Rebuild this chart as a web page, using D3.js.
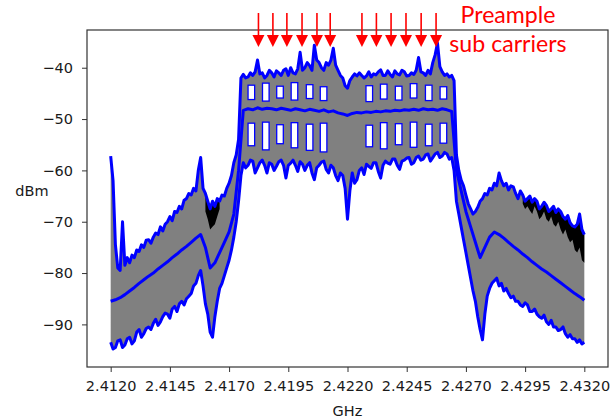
<!DOCTYPE html>
<html><head><meta charset="utf-8">
<script src="https://cdn.jsdelivr.net/npm/d3@7"></script>
<style>html,body{margin:0;padding:0;background:#fff;} svg{display:block;}</style>
</head><body>
<svg id="c" width="613" height="420"></svg>
<script>
// ---- data (GHz / dBm) ----
// spectrum bins: 2.4120 .. 2.4320 GHz, 0.1 MHz apart (201 bins)
const binStart = 2.4120, binStep = 0.0001, binCount = 201;

const maxDbm = [-57.2,-62.0,-74.5,-79.0,-79.5,-70.0,-78.5,-77.0,-78.0,-76.5,
-77.0,-75.5,-75.8,-74.5,-75.0,-73.6,-73.5,-74.2,-73.0,-72.2,
-72.5,-71.0,-71.8,-70.5,-70.0,-69.0,-69.8,-68.0,-68.2,-67.0,
-67.5,-65.8,-65.5,-64.5,-64.8,-63.5,-64.0,-60.0,-57.5,-63.5,
-64.5,-66.0,-67.5,-66.0,-67.0,-65.5,-66.0,-64.8,-65.0,-63.5,
-62.5,-61.0,-58.5,-57.0,-54.0,-42.0,-41.3,-42.0,-41.8,-41.0,
-41.5,-40.8,-38.5,-41.2,-41.0,-42.0,-41.5,-40.5,-41.0,-41.8,
-40.6,-41.0,-41.5,-40.5,-40.2,-41.5,-40.0,-41.0,-41.2,-40.2,
-37.0,-40.5,-40.0,-39.0,-39.6,-40.5,-35.6,-38.5,-39.0,-40.0,
-40.5,-39.0,-39.5,-38.5,-36.2,-39.5,-40.5,-41.5,-42.0,-43.5,
-44.0,-42.5,-41.8,-41.2,-41.6,-41.0,-41.5,-42.0,-41.6,-40.8,
-41.8,-41.2,-41.4,-40.8,-40.4,-41.5,-41.5,-40.6,-41.3,-41.8,
-40.6,-41.2,-41.4,-40.5,-40.8,-41.6,-41.5,-41.0,-41.3,-40.5,
-38.0,-40.8,-41.0,-41.5,-40.5,-41.2,-39.0,-37.5,-35.2,-39.8,
-40.8,-41.5,-41.2,-41.8,-41.5,-42.5,-57.0,-60.0,-61.9,-63.0,
-64.8,-66.5,-67.5,-68.5,-68.0,-67.2,-66.0,-65.5,-64.5,-64.8,
-63.5,-63.8,-62.5,-63.0,-60.5,-62.0,-63.0,-62.5,-63.8,-63.0,
-63.2,-64.5,-65.5,-64.0,-64.8,-66.0,-65.5,-65.0,-66.2,-65.5,
-66.0,-67.5,-67.0,-66.2,-66.8,-68.0,-67.5,-67.0,-68.2,-67.5,
-68.0,-69.0,-69.5,-68.8,-70.2,-70.8,-71.0,-70.5,-68.5,-71.5,
-72.5];

const minDbm = [-93.5,-94.8,-94.5,-93.2,-93.0,-94.5,-94.0,-92.8,-92.5,-93.8,
-93.2,-91.5,-91.0,-92.5,-91.8,-90.8,-90.5,-91.0,-89.8,-89.0,
-90.2,-89.5,-88.5,-87.8,-88.0,-88.8,-87.0,-86.5,-87.5,-86.0,
-85.5,-86.2,-85.0,-84.5,-84.0,-82.5,-82.0,-80.5,-79.5,-82.5,
-86.0,-88.0,-91.5,-92.5,-88.5,-85.5,-83.0,-82.0,-80.5,-79.0,
-77.5,-75.5,-73.0,-70.0,-66.0,-61.0,-58.5,-59.5,-59.0,-58.0,
-58.2,-60.5,-59.5,-58.5,-58.0,-59.0,-60.5,-58.5,-58.8,-60.0,
-59.2,-58.3,-58.0,-59.0,-61.5,-59.0,-58.6,-58.0,-59.0,-60.2,
-58.3,-58.8,-60.0,-59.0,-58.5,-60.5,-61.8,-59.5,-59.0,-58.4,
-58.2,-59.8,-60.5,-59.0,-59.5,-61.0,-62.0,-60.5,-61.0,-63.5,
-69.5,-64.0,-60.5,-62.5,-61.8,-60.0,-59.5,-60.8,-58.8,-59.2,
-59.6,-58.5,-58.5,-60.2,-61.5,-59.0,-58.2,-58.6,-58.8,-57.8,
-57.8,-59.0,-59.8,-58.2,-58.0,-57.6,-57.5,-58.8,-58.5,-57.5,
-57.2,-58.0,-57.8,-57.0,-56.8,-58.2,-57.5,-56.8,-56.5,-57.5,
-57.2,-56.5,-56.8,-57.8,-57.5,-60.0,-66.0,-68.5,-71.0,-73.5,
-76.0,-78.5,-81.0,-83.5,-85.5,-88.5,-91.0,-93.0,-88.0,-84.5,
-83.0,-82.0,-81.5,-81.0,-82.5,-82.0,-83.5,-83.0,-84.0,-84.8,
-84.5,-85.5,-85.5,-86.2,-86.5,-85.8,-86.2,-87.5,-87.5,-87.0,
-88.0,-88.5,-88.8,-88.2,-89.5,-90.0,-89.2,-90.5,-90.5,-91.2,
-91.0,-90.5,-91.8,-92.5,-92.0,-92.8,-92.8,-93.5,-93.0,-93.8,
-93.5];

// mean trace, every second bin (0.2 MHz)
const meanDbm = [-85.5,-85.2,-84.8,-84.2,-83.5,-82.8,-82.0,-81.3,-80.6,-80.0,
-79.2,-78.5,-77.8,-77.0,-76.3,-75.5,-74.8,-74.0,-73.2,-72.5,
-75.0,-79.0,-78.0,-76.0,-74.0,-72.0,-68.5,-60.0,-48.3,-48.0,
-48.2,-47.8,-48.1,-47.9,-48.0,-48.2,-47.9,-48.1,-48.3,-48.0,
-48.2,-48.4,-48.1,-48.3,-48.5,-48.2,-48.6,-48.4,-48.8,-49.0,
-49.3,-48.9,-48.7,-48.8,-48.6,-48.7,-48.5,-48.6,-48.4,-48.5,
-48.3,-48.4,-48.2,-48.3,-48.1,-48.3,-48.0,-48.2,-48.1,-48.3,
-48.0,-48.2,-48.5,-60.0,-64.0,-68.0,-71.0,-74.0,-77.0,-75.0,
-73.0,-72.0,-72.5,-73.2,-74.0,-74.8,-75.5,-76.3,-77.0,-77.8,
-78.5,-79.2,-79.8,-80.5,-81.2,-81.9,-82.6,-83.3,-84.0,-84.6,-85.3];

// black raw-trace patches just below the max trace
const blackLeftFreqs  = [2.4160,2.4161,2.4162,2.4163,2.4164,2.4165,2.4166];
const blackLeftLow    = [-68.0,-69.5,-71.5,-71.0,-70.5,-69.0,-67.5];
const blackRightFreqs = [2.4294,2.4295,2.4296,2.4297,2.4298,2.4299,2.4300,2.4301,2.4302,
  2.4303,2.4304,2.4305,2.4306,2.4307,2.4308,2.4309,2.4310,2.4311,2.4312,2.4313,2.4314,
  2.4315,2.4316,2.4317,2.4318,2.4319,2.4320];
const blackRightLow   = [-66.5,-67.5,-67.0,-67.8,-68.5,-67.0,-68.0,-69.5,-69.0,
  -68.0,-69.5,-70.0,-69.0,-70.5,-71.0,-70.0,-71.5,-72.5,-71.5,-73.0,-74.0,
  -73.5,-75.5,-76.0,-75.0,-77.5,-78.0];

// empty (never reached) gaps inside the in-band spread, between sub carriers
const gapFreqs      = [2.41794,2.41855,2.41915,2.41976,2.42040,2.42099,
                       2.42292,2.42353,2.42416,2.42479,2.42543,2.42605];
const upperGapTop   = [-43.4,-43.0,-43.6,-42.9,-43.3,-43.7,-43.5,-43.2,-43.6,-43.1,-43.4,-43.7];
const upperGapBot   = [-46.2,-46.5,-45.9,-46.3,-46.0,-46.4,-46.6,-46.1,-46.3,-45.9,-46.4,-46.1];
const lowerGapTop   = [-50.8,-50.6,-51.1,-50.7,-51.0,-50.8,-51.2,-50.7,-50.9,-50.6,-51.0,-50.8];
const lowerGapBot   = [-55.2,-56.0,-54.8,-55.6,-56.1,-56.4,-55.4,-55.8,-55.0,-55.5,-55.2,-54.7];

const xTicks = [2.4120,2.4145,2.4170,2.4195,2.4220,2.4245,2.4270,2.4295,2.4320];
const yTicks = [-40,-50,-60,-70,-80,-90];
const arrowFreqs = [2.41824,2.41885,2.41944,2.42008,2.42071,2.42127,
                    2.42261,2.42322,2.42384,2.42447,2.42511,2.42574];
const noteLines = ["Preample","sub carriers"];
const xLabel = "GHz", yLabel = "dBm";

// ---- drawing ----
const freqs = d3.range(binCount).map(k => +(binStart + k*binStep).toFixed(4));
const svg = d3.select("#c");
const L = 87, R = 608, T = 30, B = 367;
const x = d3.scaleLinear().domain([2.411, 2.433]).range([L, R]);
const y = d3.scaleLinear().domain([-98.3, -32.65]).range([B, T]);

svg.append("defs").append("clipPath").attr("id","clip")
  .append("rect").attr("x",L).attr("y",T).attr("width",R-L).attr("height",B-T);

const rows = freqs.map((f,i)=>({f, hi:maxDbm[i], lo:minDbm[i]}));
const meanRows = meanDbm.map((v,i)=>({f:freqs[2*i], v}));
const maxAt = f => maxDbm[Math.round((f-binStart)/binStep)];
const g = svg.append("g").attr("clip-path","url(#clip)");

g.append("path").datum(rows)
  .attr("d", d3.area().x(d=>x(d.f)).y0(d=>y(d.lo)).y1(d=>y(d.hi)))
  .attr("fill","#808080");
for (const [fs, lows] of [[blackLeftFreqs, blackLeftLow],[blackRightFreqs, blackRightLow]]) {
  g.append("path").datum(fs.map((f,i)=>({f, lo:lows[i], hi:maxAt(f)})))
    .attr("d", d3.area().x(d=>x(d.f)).y0(d=>y(d.lo)).y1(d=>y(d.hi)))
    .attr("fill","#000");
}
// in-band gaps
const gapHalf = 3.3; // px
for (const [tops, bots] of [[upperGapTop, upperGapBot],[lowerGapTop, lowerGapBot]]) {
  g.selectAll(null).data(gapFreqs.map((f,i)=>({f, t:tops[i], b:bots[i]}))).join("rect")
    .attr("x", d=>x(d.f)-gapHalf).attr("width", gapHalf*2)
    .attr("y", d=>y(d.t)).attr("height", d=>y(d.b)-y(d.t))
    .attr("fill","#fff").attr("stroke","#0000ff").attr("stroke-width",1.3);
}
const lineStyle = p => p.attr("fill","none").attr("stroke","#0000ff").attr("stroke-width",3)
  .attr("stroke-linejoin","round");
g.append("path").datum(rows).attr("d", d3.line().x(d=>x(d.f)).y(d=>y(d.hi))).call(lineStyle);
g.append("path").datum(meanRows).attr("d", d3.line().x(d=>x(d.f)).y(d=>y(d.v))).call(lineStyle);
g.append("path").datum(rows).attr("d", d3.line().x(d=>x(d.f)).y(d=>y(d.lo))).call(lineStyle);

const font = "'DejaVu Sans', sans-serif";
const xa = svg.append("g").attr("transform",`translate(0,${B})`)
  .call(d3.axisBottom(x).tickValues(xTicks).tickFormat(d3.format(".4f")).tickSize(5).tickPadding(9));
const ya = svg.append("g").attr("transform",`translate(${L},0)`)
  .call(d3.axisLeft(y).tickValues(yTicks).tickFormat(d3.format("d")).tickSize(5).tickPadding(9));
for (const a of [xa, ya]) {
  a.select(".domain").remove();
  a.selectAll("line").attr("stroke","#333");
  a.selectAll("text").attr("font-family",font).attr("font-size","14.5px").attr("fill","#1a1a1a");
}
svg.append("rect").attr("x",L).attr("y",T).attr("width",R-L).attr("height",B-T)
  .attr("fill","none").attr("stroke","#333").attr("stroke-width",1.2);

svg.append("text").attr("x",(L+R)/2).attr("y",416).attr("text-anchor","middle")
  .attr("font-family",font).attr("font-size","14.5px").attr("fill","#1a1a1a").text(xLabel);
svg.append("text").attr("x",32).attr("y",196).attr("text-anchor","middle")
  .attr("font-family",font).attr("font-size","14.5px").attr("fill","#1a1a1a").text(yLabel);

// arrows
const ag = svg.append("g");
arrowFreqs.forEach(f=>{
  const cx = x(f);
  ag.append("line").attr("x1",cx).attr("x2",cx).attr("y1",13).attr("y2",36)
    .attr("stroke","#ff0000").attr("stroke-width",1.6);
  ag.append("path").attr("d",`M${cx-6},35 L${cx+6},35 L${cx},47 Z`).attr("fill","#ff0000");
});

// note text
const note = svg.append("g");
const t1 = note.append("text").attr("x",508).attr("y",23).attr("text-anchor","middle")
  .attr("font-family","Lato, 'Open Sans', sans-serif").attr("font-size","24px").attr("fill","#ff0000").text(noteLines[0]);
const w = t1.node().getComputedTextLength();
const fsz = 24*95/w;
t1.attr("font-size",fsz+"px");
note.append("text").attr("x",508).attr("y",52).attr("text-anchor","middle")
  .attr("font-family","Lato, 'Open Sans', sans-serif").attr("font-size",fsz+"px").attr("fill","#ff0000").text(noteLines[1]);
</script>
</body></html>
